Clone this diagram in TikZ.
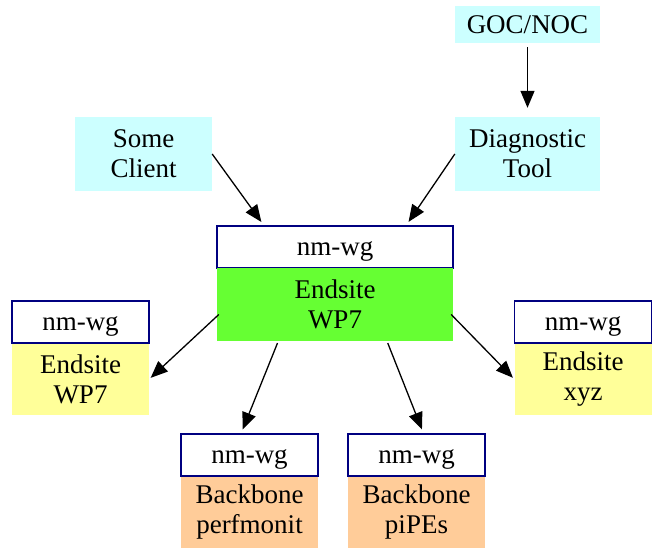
\documentclass[tikz,border=0pt]{standalone}
\usepackage{fontspec}
\setmainfont{Liberation Serif}
\usetikzlibrary{arrows.meta,calc}
\definecolor{lightcyan}{RGB}{204,255,255}
\definecolor{endgreen}{RGB}{102,255,51}
\definecolor{lightyellow}{RGB}{255,255,153}
\definecolor{lightorange}{RGB}{255,204,153}
\definecolor{wgblue}{RGB}{0,0,128}
\tikzset{
  txt/.style={font=\fontsize{27}{30}\selectfont, align=center, inner sep=0pt},
  client/.style={txt, fill=lightcyan, minimum width=145pt, minimum height=74pt},
  wgbox/.style={txt, draw=wgblue, line width=1.6pt, fill=white, minimum width=137pt, minimum height=42pt, text height=17pt, text depth=0pt},
  site/.style={txt, minimum width=137pt, minimum height=72pt},
  arr/.style={-{Triangle[length=17pt,width=14pt]}, line width=1.3pt}
}
\begin{document}
\begin{tikzpicture}[x=1pt,y=-1pt]
            \useasboundingbox (0,0) rectangle (655,547);
            % Top clients
            \node[client, minimum height=37pt] (goc) at (527.5,24.5) {GOC/NOC};
            \node[client] (diag) at (527.5,154) {Diagnostic\\Tool};
            \node[client, minimum width=137pt] (cli) at (143.5,154) {Some\\Client};
            % Central endsite
            \node[wgbox, minimum width=236pt] (wgC) at (335,247) {nm-wg};
            \node[site, fill=endgreen, minimum width=236pt, minimum height=73pt] (siteC) at (335,304.5) {Endsite\\WP7};
            % Left and right endsites
            \node[site, fill=lightyellow, anchor=north] (siteL) at (80.5,343) {Endsite\\WP7};
            \node[wgbox] (wgL) at (80.5,322) {nm-wg};
            \node[site, fill=lightyellow, anchor=north] (siteR) at (583,343) {Endsite\\xyz};
            \node[wgbox] (wgR) at (583,322) {nm-wg};
            % Backbones
            \node[site, fill=lightorange, anchor=north] (siteBL) at (249.5,476) {Backbone\\perfmonit};
            \node[wgbox] (wgBL) at (249.5,455) {nm-wg};
            \node[site, fill=lightorange, anchor=north] (siteBR) at (416.5,476) {Backbone\\piPEs};
            \node[wgbox] (wgBR) at (416.5,455) {nm-wg};
            % draw arrows
            \draw[arr, shorten <=4pt, shorten >=9pt] (goc.south) -- (diag.north);
            \draw[arr, shorten >=4pt] (cli.east) -- ($(wgC.north west)!0.2!(wgC.north east)$);
            \draw[arr, shorten >=4pt] (diag.west) -- ($(wgC.north west)!0.8!(wgC.north east)$);
            \draw[arr, shorten >=2pt] ($(siteC.west)+(2,10)$) -- (siteL.east);
            \draw[arr, shorten >=2pt] ($(siteC.east)+(-2,10)$) -- (siteR.west);
            \draw[arr, shorten <=2pt, shorten >=4pt] ($(siteC.south west)!0.26!(siteC.south east)$) -- ($(wgBL.north west)!0.44!(wgBL.north east)$);
            \draw[arr, shorten <=2pt, shorten >=4pt] ($(siteC.south west)!0.72!(siteC.south east)$) -- ($(wgBR.north west)!0.55!(wgBR.north east)$);
        \end{tikzpicture}
\end{document}
